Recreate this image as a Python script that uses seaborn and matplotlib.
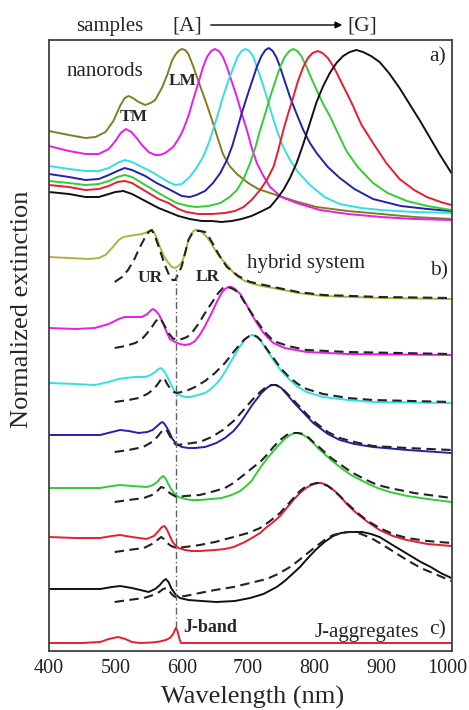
import matplotlib
matplotlib.use("Agg")
import matplotlib.pyplot as plt
import seaborn as sns

# ---------------- data (wavelength in nm, stacked normalized extinction in arbitrary units) -------------
# panel a) bare gold nanorods, samples A..G
olive_a_nm = [400, 430, 455, 470, 485, 497, 507, 514, 520, 526, 535, 545, 553, 560, 570, 578, 585, 590, 595, 600, 605, 610, 617, 625, 632, 640, 647, 655, 662, 672, 683, 700, 715, 733, 770, 803, 850, 900, 950, 1006]
olive_a = [520, 516, 513, 514, 519, 530, 545, 553, 555, 553, 549, 546, 548, 551, 563, 576, 590, 596, 600, 602, 601, 597, 585, 570, 557, 542, 528, 511, 497, 485, 477, 468, 462, 458, 450, 444, 440, 437, 434, 432]

magenta_a_nm = [400, 430, 455, 475, 490, 500, 508, 516, 524, 532, 540, 550, 560, 567, 575, 587, 595, 602, 610, 617, 625, 632, 638, 644, 650, 656, 662, 668, 675, 683, 690, 698, 705, 713, 723, 733, 750, 773, 808, 850, 900, 950, 1006]
magenta_a = [505, 500, 497, 497, 502, 510, 518, 522, 519, 513, 506, 499, 496, 496, 498, 504, 512, 521, 535, 551, 568, 584, 594, 600, 602, 600, 594, 584, 570, 554, 538, 521, 504, 488, 475, 464, 454, 448, 441, 437, 434, 432, 431]

cyan_a_nm = [400, 430, 455, 475, 490, 503, 514, 525, 540, 555, 570, 580, 590, 600, 612, 622, 632, 640, 647, 655, 662, 670, 678, 684, 690, 696, 702, 708, 713, 720, 728, 735, 743, 752, 763, 775, 793, 815, 838, 870, 900, 950, 1006]
cyan_a = [485, 482, 480, 480, 483, 488, 491, 489, 484, 479, 473, 469, 466, 467, 474, 483, 494, 507, 521, 538, 554, 570, 584, 594, 600, 602, 600, 594, 584, 571, 554, 538, 521, 505, 491, 479, 466, 454, 447, 443, 441, 439, 438]

blue_a_nm = [400, 430, 455, 475, 490, 503, 514, 525, 545, 562, 580, 600, 612, 622, 635, 647, 658, 668, 676, 683, 690, 698, 706, 713, 720, 726, 731, 737, 743, 748, 755, 763, 773, 783, 793, 803, 820, 838, 860, 888, 930, 970, 1006]
blue_a = [477, 474, 471, 472, 476, 480, 483, 481, 475, 468, 462, 455, 454, 456, 460, 468, 478, 491, 505, 521, 537, 554, 570, 584, 595, 601, 603, 600, 593, 584, 570, 554, 537, 521, 508, 498, 484, 473, 462, 452, 445, 442, 440]

green_a_nm = [400, 430, 455, 475, 490, 503, 514, 525, 545, 565, 592, 610, 622, 640, 658, 672, 683, 693, 703, 711, 718, 726, 733, 741, 748, 755, 762, 768, 774, 780, 788, 795, 803, 813, 823, 835, 848, 865, 888, 910, 939, 970, 1006]
green_a = [470, 468, 466, 467, 470, 474, 476, 474, 466, 458, 448, 445, 444, 445, 448, 454, 461, 472, 488, 504, 521, 538, 554, 570, 584, 594, 600, 602, 600, 595, 584, 573, 561, 547, 535, 518, 500, 484, 468, 458, 450, 445, 441]

red_a_nm = [400, 430, 455, 475, 490, 503, 514, 525, 545, 565, 580, 595, 607, 625, 645, 665, 680, 693, 705, 718, 728, 738, 745, 753, 760, 768, 775, 783, 790, 797, 805, 812, 820, 828, 835, 843, 850, 858, 870, 888, 908, 928, 950, 969, 990, 1006]
red_a = [466, 464, 461, 462, 465, 469, 470, 468, 460, 452, 448, 442, 439, 437, 437, 438, 440, 444, 451, 461, 471, 484, 500, 521, 537, 554, 570, 584, 593, 598, 600, 598, 593, 585, 576, 565, 556, 545, 527, 508, 488, 472, 461, 454, 449, 446]

black_a_nm = [400, 430, 455, 475, 490, 500, 512, 525, 545, 565, 580, 595, 612, 630, 645, 660, 675, 690, 705, 718, 733, 743, 753, 763, 773, 783, 793, 803, 813, 823, 833, 843, 853, 863, 873, 885, 898, 912, 928, 943, 959, 974, 989, 1006]
black_a = [459, 457, 454, 454, 457, 459, 460, 457, 450, 443, 439, 435, 432, 430, 430, 429, 430, 432, 435, 439, 444, 452, 461, 473, 488, 507, 528, 549, 565, 578, 588, 595, 599, 601, 599, 595, 589, 578, 563, 547, 530, 513, 496, 478]

# panel b) hybrid system: solid = measured, dashed = model
olive_b_nm = [400, 430, 460, 475, 485, 495, 505, 512, 520, 530, 540, 548, 553, 558, 563, 567, 573, 580, 585, 590, 595, 600, 605, 610, 615, 620, 625, 630, 635, 640, 645, 652, 660, 668, 677, 685, 695, 703, 720, 738, 775, 813, 900, 1006]
olive_b = [394, 393, 392, 393, 396, 403, 411, 414, 415, 416, 417, 419, 421, 419, 412, 404, 395, 388, 384, 383, 385, 388, 398, 411, 418, 421, 421, 419, 416, 412, 407, 399, 392, 386, 379, 374, 370, 368, 365, 363, 358, 355, 353, 352]
olive_bd_nm = [499, 510, 519, 528, 537, 545, 550, 555, 560, 567, 574, 582, 586, 590, 595, 600, 605, 610, 616, 622, 628, 635, 641, 647, 657, 668, 685, 703, 738, 775, 813, 900, 1006]
olive_bd = [369, 374, 381, 391, 404, 414, 419, 421, 414, 401, 387, 374, 371, 371, 377, 385, 398, 411, 418, 420, 420, 419, 414, 407, 395, 384, 375, 369, 364, 359, 356, 354, 353]

magenta_b_nm = [400, 440, 469, 490, 505, 514, 525, 540, 548, 554, 557, 561, 565, 569, 573, 577, 582, 590, 597, 605, 613, 620, 627, 635, 645, 652, 660, 665, 670, 675, 680, 688, 696, 705, 713, 722, 730, 738, 755, 788, 850, 1006]
magenta_b = [323, 322, 323, 327, 332, 334, 334, 334, 337, 341, 342, 340, 337, 332, 326, 319, 312, 309, 307, 306, 307, 310, 316, 325, 338, 348, 358, 362, 364, 364, 362, 357, 348, 337, 328, 319, 313, 308, 303, 299, 297, 296]
magenta_bd_nm = [499, 515, 530, 540, 548, 555, 561, 566, 570, 575, 580, 586, 592, 600, 608, 615, 625, 635, 645, 655, 662, 668, 674, 680, 688, 696, 705, 713, 725, 738, 760, 788, 850, 1006]
magenta_bd = [303, 305, 308, 312, 318, 324, 330, 333, 330, 324, 318, 313, 311, 312, 314, 318, 327, 338, 348, 358, 363, 364, 363, 361, 356, 347, 338, 330, 319, 310, 305, 301, 299, 297]

cyan_b_nm = [400, 440, 469, 490, 505, 514, 530, 545, 553, 560, 565, 568, 572, 576, 580, 585, 590, 596, 605, 612, 625, 635, 642, 650, 657, 665, 672, 680, 688, 695, 701, 707, 713, 720, 728, 738, 750, 763, 775, 788, 813, 850, 888, 1006]
cyan_b = [268, 267, 266, 269, 272, 273, 274, 274, 276, 279, 282, 283, 281, 277, 272, 265, 259, 256, 254, 254, 256, 258, 261, 266, 271, 279, 287, 296, 305, 311, 315, 316, 314, 309, 301, 291, 280, 271, 264, 259, 254, 251, 249, 248]
cyan_bd_nm = [499, 520, 535, 548, 558, 565, 570, 574, 578, 583, 588, 592, 600, 610, 620, 635, 650, 665, 678, 688, 695, 702, 708, 714, 720, 728, 738, 750, 763, 775, 788, 813, 850, 888, 1006]
cyan_bd = [249, 251, 253, 257, 262, 268, 273, 272, 267, 262, 259, 258, 259, 261, 264, 270, 278, 288, 299, 307, 312, 315, 316, 314, 310, 302, 293, 282, 273, 267, 262, 257, 253, 251, 249]

blue_b_nm = [400, 440, 477, 495, 507, 520, 535, 548, 556, 563, 568, 571, 574, 577, 581, 586, 592, 600, 610, 620, 635, 652, 665, 678, 688, 698, 706, 713, 720, 728, 735, 742, 750, 758, 768, 778, 788, 798, 808, 820, 838, 860, 888, 940, 1006]
blue_b = [216, 216, 216, 219, 221, 220, 218, 219, 221, 225, 228, 229, 227, 224, 219, 212, 207, 204, 203, 203, 204, 208, 213, 220, 228, 238, 246, 252, 258, 263, 266, 266, 263, 257, 249, 242, 235, 228, 223, 217, 211, 207, 204, 201, 198]
blue_bd_nm = [499, 520, 542, 555, 563, 569, 574, 578, 582, 587, 592, 605, 627, 645, 662, 678, 693, 706, 718, 727, 735, 742, 750, 758, 768, 778, 788, 798, 808, 820, 838, 860, 888, 940, 1006]
blue_bd = [199, 201, 204, 209, 214, 219, 222, 220, 215, 209, 206, 207, 209, 214, 221, 230, 241, 251, 259, 264, 266, 266, 263, 258, 251, 244, 237, 230, 225, 219, 213, 209, 205, 203, 201]

green_b_nm = [400, 440, 477, 495, 507, 525, 547, 557, 563, 568, 572, 575, 579, 583, 588, 595, 605, 615, 627, 645, 660, 675, 688, 697, 705, 712, 720, 728, 738, 746, 755, 763, 770, 776, 783, 790, 798, 805, 815, 825, 838, 855, 878, 895, 913, 940, 970, 1006]
green_b = [163, 163, 163, 165, 166, 165, 164, 166, 169, 173, 175, 173, 168, 163, 158, 154, 152, 151, 151, 152, 153, 156, 160, 165, 170, 177, 185, 192, 200, 206, 212, 216, 218, 218, 216, 213, 208, 203, 197, 191, 184, 176, 168, 163, 159, 155, 152, 149]
green_bd_nm = [499, 520, 543, 555, 563, 569, 573, 578, 584, 592, 605, 627, 650, 665, 678, 695, 708, 718, 728, 738, 748, 758, 767, 775, 783, 790, 798, 805, 815, 825, 838, 855, 878, 895, 913, 950, 1006]
green_bd = [149, 151, 153, 156, 160, 164, 163, 160, 157, 154, 155, 156, 160, 163, 168, 177, 184, 189, 196, 204, 211, 216, 218, 218, 217, 214, 209, 205, 199, 193, 187, 179, 171, 166, 163, 158, 153]

red_b_nm = [400, 440, 477, 495, 507, 525, 547, 558, 565, 570, 574, 578, 582, 587, 595, 605, 615, 627, 650, 665, 678, 695, 708, 718, 728, 738, 748, 758, 768, 778, 787, 795, 803, 810, 818, 825, 832, 838, 850, 863, 880, 898, 918, 939, 970, 1006]
red_b = [114, 113, 113, 115, 116, 114, 112, 115, 120, 124, 125, 121, 115, 108, 103, 101, 100, 100, 101, 102, 104, 109, 114, 118, 124, 129, 135, 143, 151, 158, 163, 166, 168, 168, 166, 163, 159, 155, 146, 138, 129, 121, 115, 111, 107, 105]
red_bd_nm = [499, 520, 543, 555, 563, 569, 573, 578, 584, 592, 605, 627, 650, 678, 700, 718, 733, 748, 763, 778, 788, 797, 805, 812, 820, 828, 838, 850, 863, 880, 898, 918, 939, 970, 1006]
red_bd = [99, 101, 103, 107, 111, 114, 112, 108, 105, 103, 104, 106, 109, 114, 118, 123, 130, 138, 149, 160, 165, 167, 168, 167, 165, 161, 155, 147, 139, 130, 123, 117, 113, 110, 108]

black_b_nm = [400, 440, 477, 495, 507, 525, 550, 560, 567, 572, 576, 580, 584, 590, 597, 610, 630, 652, 680, 703, 723, 743, 755, 765, 778, 790, 803, 815, 828, 840, 852, 861, 872, 885, 898, 915, 930, 945, 960, 975, 990, 1006]
black_b = [62, 62, 62, 64, 65, 63, 59, 62, 66, 70, 72, 69, 63, 57, 53, 51, 50, 49, 50, 53, 57, 64, 70, 76, 84, 93, 102, 109, 115, 118, 119, 119, 119, 117, 114, 107, 101, 95, 89, 84, 78, 73]
black_bd_nm = [499, 520, 543, 557, 566, 572, 577, 581, 586, 590, 605, 627, 650, 678, 703, 728, 745, 763, 775, 788, 803, 815, 828, 840, 850, 860, 870, 885, 898, 915, 939, 960, 985, 1006]
black_bd = [49, 51, 53, 56, 59, 62, 63, 60, 56, 54, 55, 58, 61, 64, 68, 72, 77, 84, 90, 97, 105, 111, 116, 118, 119, 119, 117, 113, 108, 101, 91, 83, 76, 70]

# panel c) J-aggregates
jagg_nm = [400, 450, 477, 490, 504, 515, 525, 537, 555, 567, 576, 582, 586, 589, 591, 593, 595, 597, 599, 1006]
jagg = [8, 8, 9, 12, 14, 12, 9, 8, 8.5, 9.5, 11, 13, 16, 20, 23, 21, 16, 11, 8, 8]

# J-band position (dash-dot marker) and its vertical extent
jband_nm = 591
jband_span = [23, 383]

xticks = [400, 500, 600, 700, 800, 900, 1000]
minor_xticks = [450, 550, 650, 750, 850, 950]

# ---------------- figure ----------------
sns.set_style("white")
plt.rcParams["font.family"] = ["Liberation Serif", "DejaVu Serif"]

W, H = 469, 710
fig = plt.figure(figsize=(W / 100, H / 100), dpi=100)
ax = fig.add_axes([49 / W, 1 - 651 / H, 403 / W, 611 / H])

cols_a = ["#7f7f22", "#e61ee6", "#33e0e0", "#2222aa", "#33cc33", "#e61e30", "#111111"]
col_olive_b = "#b4b040"
lw = 1.4

curves_a = [(olive_a_nm, olive_a), (magenta_a_nm, magenta_a), (cyan_a_nm, cyan_a), (blue_a_nm, blue_a),
            (green_a_nm, green_a), (red_a_nm, red_a), (black_a_nm, black_a)]
for (x, y), c in zip(curves_a, cols_a):
    sns.lineplot(x=x, y=y, color=c, linewidth=lw, ax=ax)

curves_b = [(olive_b_nm, olive_b), (magenta_b_nm, magenta_b), (cyan_b_nm, cyan_b), (blue_b_nm, blue_b),
            (green_b_nm, green_b), (red_b_nm, red_b), (black_b_nm, black_b)]
cols_b = [col_olive_b] + cols_a[1:]
for (x, y), c in zip(curves_b, cols_b):
    sns.lineplot(x=x, y=y, color=c, linewidth=lw, ax=ax)

curves_bd = [(olive_bd_nm, olive_bd), (magenta_bd_nm, magenta_bd), (cyan_bd_nm, cyan_bd), (blue_bd_nm, blue_bd),
             (green_bd_nm, green_bd), (red_bd_nm, red_bd), (black_bd_nm, black_bd)]
for x, y in curves_bd:
    sns.lineplot(x=x, y=y, color="#222222", linewidth=1.5, linestyle=(0, (4.5, 2.6)), ax=ax)

sns.lineplot(x=jagg_nm, y=jagg, color="#e61e30", linewidth=lw, ax=ax)

ax.plot([jband_nm, jband_nm], jband_span, color="#5a6070", lw=1.0, linestyle=(0, (5, 2, 1, 2)))

ax.set_xlim(400, 1007)
ax.set_ylim(0, 611)
ax.set_xticks(xticks)
ax.set_xticks(minor_xticks, minor=True)
ax.set_yticks([])
ax.tick_params(axis="x", which="major", direction="in", length=4.5, width=1.1, labelsize=14.5, pad=6, colors="#222222")
ax.tick_params(axis="x", which="minor", direction="in", length=3, width=1.0)
for s in ax.spines.values():
    s.set_visible(True)
    s.set_color("#404040")
    s.set_linewidth(1.3)
ax.set_xlabel("")
ax.set_ylabel("")


def ftext(px, py, s, **kw):
    fig.text(px / W, 1 - py / H, s, ha="center", va="center", **kw)


ftext(253, 697, "Wavelength (nm)", fontsize=19)
ftext(22, 309, "Normalized extinction", fontsize=19, rotation=90)

ftext(110, 26, "samples", fontsize=15)
ftext(187, 26, "[A]", fontsize=15.5)
ftext(362, 26, "[G]", fontsize=15.5)
ax.annotate("", xy=(345 / W, 1 - 25 / H), xytext=(208 / W, 1 - 25 / H),
            xycoords="figure fraction", textcoords="figure fraction",
            arrowprops=dict(arrowstyle="-|>", color="black", lw=1.0, mutation_scale=10))

ftext(438, 57, "a)", fontsize=15.5)
ftext(105, 71, "nanorods", fontsize=15)
ftext(183, 81, "LM", fontsize=12.5, fontweight="bold")
ftext(134, 117, "TM", fontsize=12.5, fontweight="bold")
ftext(306, 264, "hybrid system", fontsize=15)
ftext(439, 271, "b)", fontsize=15.5)
ftext(150, 278, "UR", fontsize=12.5, fontweight="bold")
ftext(208, 277, "LR", fontsize=12.5, fontweight="bold")
ftext(210, 627, "J-band", fontsize=13, fontweight="bold")
ftext(367, 632, "J-aggregates", fontsize=15)
ftext(438, 630, "c)", fontsize=15.5)

fig.savefig("out.png", dpi=100)
